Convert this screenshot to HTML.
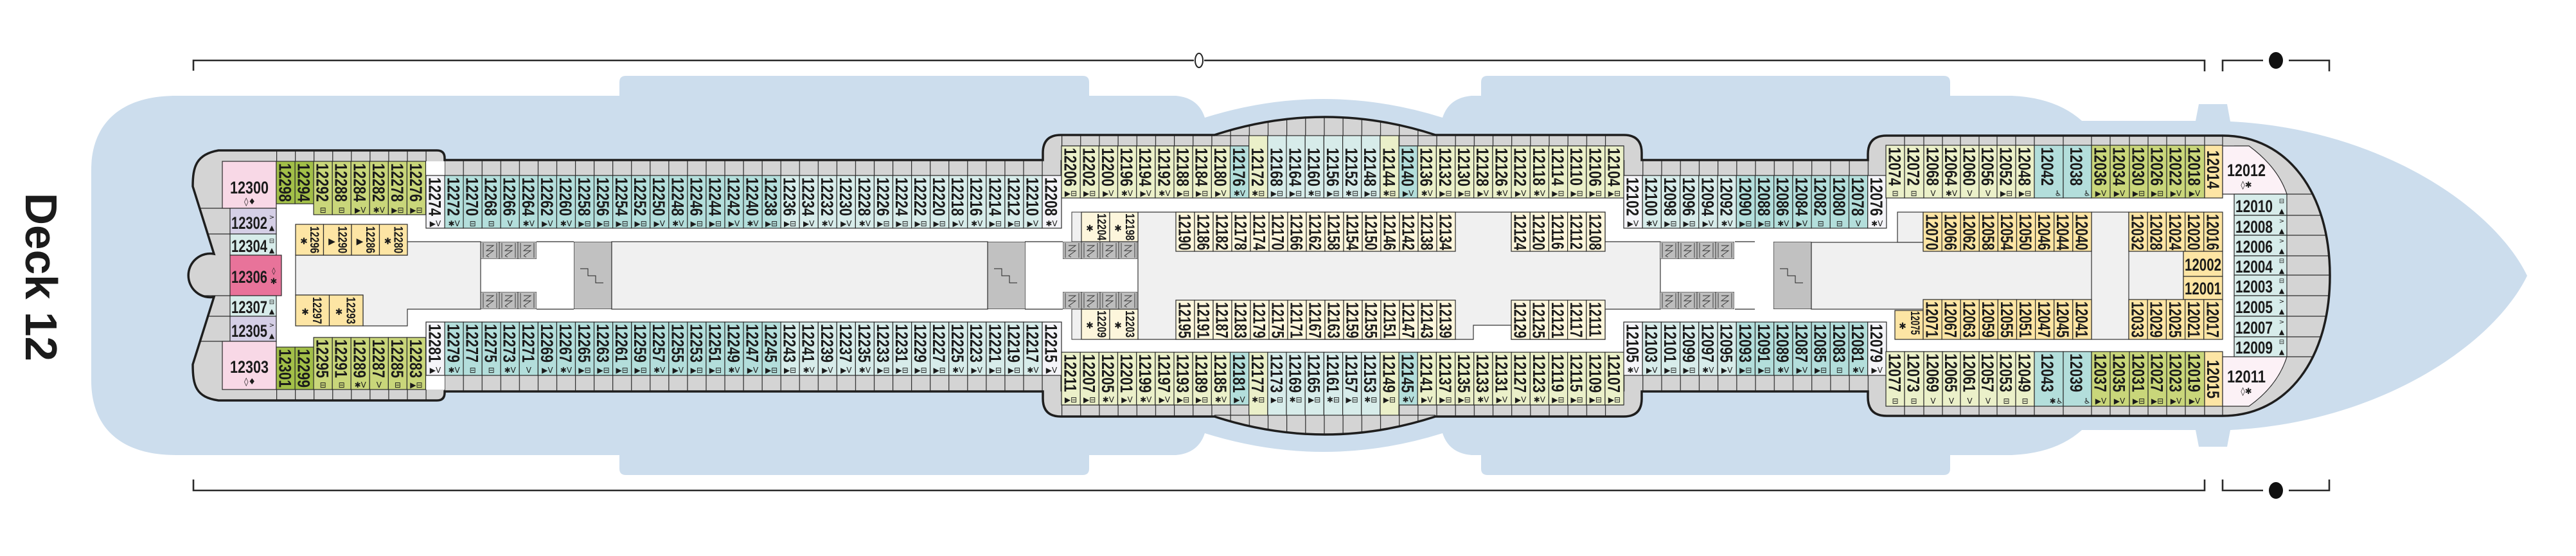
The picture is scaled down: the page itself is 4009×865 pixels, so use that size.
<!DOCTYPE html>
<html><head><meta charset="utf-8"><style>
html,body{margin:0;padding:0;background:#fff}
svg{display:block}
.n{font-family:"Liberation Sans",sans-serif;font-weight:bold;font-size:27px;fill:#1b1b1b}
.s{font-family:"Liberation Sans",sans-serif;font-weight:bold;font-size:19px;fill:#1b1b1b}
.h{font-family:"Liberation Sans",sans-serif;font-weight:bold;font-size:27px;fill:#1b1b1b}
.i{font-family:"DejaVu Sans",sans-serif;font-size:12px;fill:#1b1b1b;text-anchor:middle}
.c{stroke:#2a2a2a;stroke-width:1.2}
.W{fill:#f4f4f8}.T{fill:#b3dedb}.P{fill:#d7ecea}.G{fill:#c9d67a}.D{fill:#a2bf48}.L{fill:#ebf0c9}.Y{fill:#fde5a4}.Q{fill:#fdf6dc}
.ln{stroke:#2a2a2a;stroke-width:1.2;fill:none}
</style></head><body>
<svg width="4009" height="865" viewBox="0 0 4009 865" xmlns="http://www.w3.org/2000/svg">
<defs>
<path id="deck" d="M340,234 L680,234 Q692,234 692,246 L692,249 L1623,249 L1623,238 Q1623,210 1651,210 L1890,210 Q2062,154 2234,210 L2527,210 Q2555,210 2555,238 L2555,249 L2907,249 L2907,240 Q2907,211 2936,211 L3459,211 C3560,211 3626,300 3626,429 C3626,558 3560,647 3459,647 L2936,647 Q2907,647 2907,618 L2907,609 L2555,609 L2555,620 Q2555,648 2527,648 L2234,648 Q2062,704 1890,648 L1651,648 Q1623,648 1623,620 L1623,609 L692,609 L692,611 Q692,623 680,623 L340,623 C305,618 300,600 300,567 L333,462 A34,34 0 1 1 333,395 L300,290 C300,260 305,240 340,234 Z"/>
<clipPath id="dc"><use href="#deck"/></clipPath>
<pattern id="p1" patternUnits="userSpaceOnUse" x="430" y="0" width="29.06" height="900"><rect width="29.06" height="900" fill="#d4d4d4"/><path d="M0.6,0V900" stroke="#2a2a2a" stroke-width="1.2"/></pattern>
<pattern id="p2" patternUnits="userSpaceOnUse" x="1652" y="0" width="29.17" height="900"><rect width="29.17" height="900" fill="#d4d4d4"/><path d="M0.6,0V900" stroke="#2a2a2a" stroke-width="1.2"/></pattern>
<pattern id="p3" patternUnits="userSpaceOnUse" x="2527" y="0" width="29.21" height="900"><rect width="29.21" height="900" fill="#d4d4d4"/><path d="M0.6,0V900" stroke="#2a2a2a" stroke-width="1.2"/></pattern>
<symbol id="lift" viewBox="0 0 29 27" width="29" height="27"><rect x="0" y="0" width="29" height="27" fill="#bdbdbd" stroke="#333" stroke-width="1"/><path d="M4,2V25M25,2V25M9,6H20L9,14H20L9,22M9,22L13,19M9,22L13,24" stroke="#333" stroke-width="0.9" fill="none"/></symbol>
<symbol id="stair" viewBox="0 0 59 105" width="59" height="105"><rect x="0" y="0" width="59" height="105" fill="#c1c1c1" stroke="#222" stroke-width="1.2"/><path d="M10,42H22V53H34V64H46" stroke="#222" stroke-width="1" fill="none"/></symbol>
</defs>

<!-- hull -->
<path fill="#ccdded" d="M142,265 C142,190 190,149 274,149 L964,149 L964,128 Q964,118 974,118 L1685,118 Q1695,118 1695,128 L1695,149 L1830,149 Q1865,152 1875,183 Q2060,125 2245,183 Q2255,152 2290,149 L2305,149 L2305,128 Q2305,118 2315,118 L3025,118 Q3035,118 3035,128 L3035,149 L3131,149 Q3200,152 3240,188 L3417,188 L3422,162 L3466,162 L3471,189 C3700,200 3880,320 3933,429 C3880,538 3700,658 3471,669 L3466,695 L3422,695 L3417,669 L3240,669 Q3200,705 3131,708 L3035,708 L3035,729 Q3035,739 3025,739 L2315,739 Q2305,739 2305,729 L2305,708 L2290,708 Q2255,705 2245,674 Q2060,732 1875,674 Q1865,705 1830,708 L1695,708 L1695,729 Q1695,739 1685,739 L974,739 Q964,739 964,729 L964,708 L274,708 C190,708 142,667 142,592 Z"/>

<!-- brackets -->
<path class="ln" stroke-width="2.5" d="M301,110V94H1858M1874,94H3431V111M3459,111V94H3522M3562,94H3625V111M301,746V763H3431V746M3459,746V763H3522M3562,763H3625V746" style="stroke-width:2.6"/>
<ellipse cx="1866" cy="94" rx="6" ry="11" fill="#fff" stroke="#222" stroke-width="2"/>
<ellipse cx="3542" cy="94" rx="11" ry="13" fill="#111"/>
<ellipse cx="3542" cy="763" rx="11" ry="13" fill="#111"/>

<text transform="translate(40,300) rotate(90)" font-family="Liberation Sans, sans-serif" font-weight="bold" font-size="70" fill="#1b1b1b" textLength="262" lengthAdjust="spacingAndGlyphs">Deck 12</text>

<!-- deck base -->
<use href="#deck" fill="#d4d4d4"/>
<g clip-path="url(#dc)">
<path class="ln" d="M290,324H358M290,364H358M290,460H358M290,492H358M290,531H358M3559,302H3650M3559,335H3650M3559,366H3650M3559,398H3650M3559,428H3650M3559,460H3650M3559,492H3650M3559,524H3650M3559,555H3650"/>
<!-- strips -->
<rect x="430" y="234" width="262" height="17" fill="url(#p1)"/>
<rect x="430" y="606" width="262" height="17" fill="url(#p1)"/>
<rect x="663" y="249" width="989" height="24" fill="url(#p1)"/>
<rect x="663" y="584" width="989" height="25" fill="url(#p1)"/>
<rect x="1652" y="180" width="875" height="47" fill="url(#p2)"/>
<rect x="1652" y="630" width="875" height="50" fill="url(#p2)"/>
<rect x="2527" y="249" width="409" height="24" fill="url(#p3)"/>
<rect x="2527" y="584" width="409" height="25" fill="url(#p3)"/>
</g>
<path class="ln" d="M1652,227H2527M1652,630H2527M1890,211H1945M2177,211H2234M1890,646H1945M2177,646H2234"/>
<path class="ln" d="M2964,211V226M2994,211V226M3023,211V226M3051,211V226M3080,211V226M3108,211V226M3137,211V226M3166,211V226M3211,211V226M3255,211V226M3284,211V226M3314,211V226M3343,211V226M3372,211V226M3401,211V226M3431,211V226M3459,211V226M2964,632V647M2994,632V647M3023,632V647M3051,632V647M3080,632V647M3108,632V647M3137,632V647M3166,632V647M3211,632V647M3255,632V647M3284,632V647M3314,632V647M3343,632V647M3372,632V647M3401,632V647M3431,632V647M3459,632V647"/>

<!-- white interiors -->
<rect x="430" y="251" width="262" height="355" fill="#fff"/>
<rect x="663" y="273" width="989" height="311" fill="#fff"/>
<rect x="1652" y="227" width="875" height="403" fill="#fff"/>
<rect x="2527" y="273" width="409" height="311" fill="#fff"/>
<rect x="2935" y="226" width="542" height="406" fill="#fff"/>

<!-- light grey areas -->
<path d="M460,397 L634,397 L634,376 L748,376 L748,481 L634,481 L634,507 L565,507 L565,459 L460,459 Z" fill="#f0f0f0" stroke="#333" stroke-width="1.2"/>
<rect x="952" y="376" width="585" height="105" fill="#f0f0f0" stroke="#333" stroke-width="1.2"/>
<path d="M1771,330 L2498,330 L2498,376 L2584,376 L2584,481 L2498,481 L2498,528 L2352,528 L2352,506 L2293,506 L2293,528 L1771,528 Z" fill="#f0f0f0" stroke="#333" stroke-width="1.2"/>
<rect x="2819" y="377" width="579" height="104" fill="#f0f0f0" stroke="#333" stroke-width="1.2"/>
<rect x="2953" y="330" width="40" height="47" fill="#f0f0f0" stroke="#333" stroke-width="1.2"/>
<rect x="3255" y="330" width="58" height="198" fill="#f0f0f0" stroke="#333" stroke-width="1.2"/>
<rect x="1668" y="330" width="15" height="46" fill="#f0f0f0" stroke="#333" stroke-width="1"/>
<rect x="1668" y="481" width="15" height="47" fill="#f0f0f0" stroke="#333" stroke-width="1"/>
<path class="ln" d="M835,376H893M835,481H893M1595,376H1654M1595,481H1654M2700,376H2731M2700,481H2731"/>

<!-- lifts & stairs -->
<use href="#lift" x="748" y="376"/><use href="#lift" x="777" y="376"/><use href="#lift" x="806" y="376"/>
<use href="#lift" x="748" y="454"/><use href="#lift" x="777" y="454"/><use href="#lift" x="806" y="454"/>
<use href="#lift" x="1654" y="376"/><use href="#lift" x="1683" y="376"/><use href="#lift" x="1712" y="376"/><use href="#lift" x="1741" y="376"/>
<use href="#lift" x="1654" y="454"/><use href="#lift" x="1683" y="454"/><use href="#lift" x="1712" y="454"/><use href="#lift" x="1741" y="454"/>
<use href="#lift" x="2583" y="376"/><use href="#lift" x="2612" y="376"/><use href="#lift" x="2641" y="376"/><use href="#lift" x="2670" y="376"/>
<use href="#lift" x="2583" y="454"/><use href="#lift" x="2612" y="454"/><use href="#lift" x="2641" y="454"/><use href="#lift" x="2670" y="454"/>
<use href="#stair" x="893" y="376"/><use href="#stair" x="1537" y="376"/><use href="#stair" x="2760" y="376"/>

<!-- AFT -->
<rect class="c" x="346" y="251" width="84" height="73" fill="#f8d8e6"/>
<text class="h" x="358" y="301" textLength="60" lengthAdjust="spacingAndGlyphs">12300</text><text class="i" x="389" y="318" style="font-size:13px">◊♦</text>
<rect class="c" x="358" y="324" width="72" height="40" fill="#d5cfe6"/>
<text class="h" x="360" y="356" textLength="56" lengthAdjust="spacingAndGlyphs">12302</text><text class="i" x="423" y="341" style="font-size:10px">&gt;</text><text class="i" x="423" y="358" style="font-size:11px">▲</text>
<rect class="c" x="358" y="364" width="72" height="33" fill="#d7ecea"/>
<text class="h" x="360" y="392" textLength="56" lengthAdjust="spacingAndGlyphs">12304</text><text class="i" x="423" y="378" style="font-size:10px">⊟</text><text class="i" x="423" y="393" style="font-size:11px">▲</text>
<rect class="c" x="358" y="397" width="80" height="63" fill="#e8739a"/>
<text class="h" x="360" y="440" textLength="56" lengthAdjust="spacingAndGlyphs">12306</text><text class="i" x="426" y="425" style="font-size:11px">◊</text><text class="i" x="426" y="442" style="font-size:13px">✱</text>
<rect class="c" x="358" y="460" width="72" height="32" fill="#d7ecea"/>
<text class="h" x="360" y="487" textLength="56" lengthAdjust="spacingAndGlyphs">12307</text><text class="i" x="423" y="473" style="font-size:10px">⊟</text><text class="i" x="423" y="488" style="font-size:11px">▲</text>
<rect class="c" x="358" y="492" width="72" height="39" fill="#d5cfe6"/>
<text class="h" x="360" y="524" textLength="56" lengthAdjust="spacingAndGlyphs">12305</text><text class="i" x="423" y="509" style="font-size:10px">&gt;</text><text class="i" x="423" y="526" style="font-size:11px">▲</text>
<rect class="c" x="346" y="531" width="84" height="75" fill="#f8d8e6"/>
<text class="h" x="358" y="580" textLength="60" lengthAdjust="spacingAndGlyphs">12303</text><text class="i" x="389" y="598" style="font-size:13px">◊♦</text>

<rect class="c D" x="430" y="251" width="29.1" height="66"/><text class="n" transform="translate(434.5,254)rotate(90)scale(.8,1)">12298</text>
<rect class="c D" x="459.1" y="251" width="29.1" height="66"/><text class="n" transform="translate(463.6,254)rotate(90)scale(.8,1)">12294</text>
<rect class="c G" x="488.1" y="251" width="29.1" height="83"/><text class="n" transform="translate(492.6,254)rotate(90)scale(.8,1)">12292</text><text class="i" x="502.6" y="331">⊟</text>
<rect class="c G" x="517.2" y="251" width="29.1" height="83"/><text class="n" transform="translate(521.7,254)rotate(90)scale(.8,1)">12288</text><text class="i" x="531.7" y="331">⊟</text>
<rect class="c G" x="546.2" y="251" width="29.1" height="83"/><text class="n" transform="translate(550.7,254)rotate(90)scale(.8,1)">12284</text><text class="i" x="560.7" y="331">▶V</text>
<rect class="c G" x="575.3" y="251" width="29.1" height="83"/><text class="n" transform="translate(579.8,254)rotate(90)scale(.8,1)">12282</text><text class="i" x="589.8" y="331">✱V</text>
<rect class="c G" x="604.4" y="251" width="29.1" height="83"/><text class="n" transform="translate(608.9,254)rotate(90)scale(.8,1)">12278</text><text class="i" x="618.9" y="331">▶⊟</text>
<rect class="c G" x="633.4" y="251" width="29.1" height="83"/><text class="n" transform="translate(637.9,254)rotate(90)scale(.8,1)">12276</text><text class="i" x="647.9" y="331">▶⊟</text>

<rect class="c D" x="430" y="540" width="29.1" height="66"/><text class="n" transform="translate(434.5,543)rotate(90)scale(.8,1)">12301</text>
<rect class="c D" x="459.1" y="540" width="29.1" height="66"/><text class="n" transform="translate(463.6,543)rotate(90)scale(.8,1)">12299</text>
<rect class="c G" x="488.1" y="525" width="29.1" height="81"/><text class="n" transform="translate(492.6,528)rotate(90)scale(.8,1)">12295</text><text class="i" x="502.6" y="603">⊟</text>
<rect class="c G" x="517.2" y="525" width="29.1" height="81"/><text class="n" transform="translate(521.7,528)rotate(90)scale(.8,1)">12291</text><text class="i" x="531.7" y="603">⊟</text>
<rect class="c G" x="546.2" y="525" width="29.1" height="81"/><text class="n" transform="translate(550.7,528)rotate(90)scale(.8,1)">12289</text><text class="i" x="560.7" y="603">✱V</text>
<rect class="c G" x="575.3" y="525" width="29.1" height="81"/><text class="n" transform="translate(579.8,528)rotate(90)scale(.8,1)">12287</text><text class="i" x="589.8" y="603">V</text>
<rect class="c G" x="604.4" y="525" width="29.1" height="81"/><text class="n" transform="translate(608.9,528)rotate(90)scale(.8,1)">12285</text><text class="i" x="618.9" y="603">⊟</text>
<rect class="c G" x="633.4" y="525" width="29.1" height="81"/><text class="n" transform="translate(637.9,528)rotate(90)scale(.8,1)">12283</text><text class="i" x="647.9" y="603">▶⊟</text>

<rect class="c Y" x="460" y="349" width="43.5" height="48"/><text class="s" transform="translate(483,352)rotate(90)scale(.8,1)">12296</text><text class="i" x="473" y="380" style="font-size:14px">✱</text>
<rect class="c Y" x="503.5" y="349" width="43.5" height="48"/><text class="s" transform="translate(526.5,352)rotate(90)scale(.8,1)">12290</text><text class="i" x="516.5" y="380" style="font-size:14px">▶</text>
<rect class="c Y" x="547" y="349" width="43.5" height="48"/><text class="s" transform="translate(570,352)rotate(90)scale(.8,1)">12286</text><text class="i" x="560" y="380" style="font-size:14px">▶</text>
<rect class="c Y" x="590.5" y="349" width="43.5" height="48"/><text class="s" transform="translate(613.5,352)rotate(90)scale(.8,1)">12280</text><text class="i" x="603.5" y="380" style="font-size:14px">✱</text>
<rect class="c Y" x="460" y="459" width="52.5" height="48"/><text class="s" transform="translate(487,462)rotate(90)scale(.8,1)">12297</text><text class="i" x="475" y="490" style="font-size:14px">✱</text>
<rect class="c Y" x="512.5" y="459" width="52.5" height="48"/><text class="s" transform="translate(539.5,462)rotate(90)scale(.8,1)">12293</text><text class="i" x="527.5" y="490" style="font-size:14px">✱</text>

<!-- NARROW 1 TOP -->
<rect class="c W" x="663.0" y="273" width="29.1" height="82"/><text class="n" transform="translate(667.5,276)rotate(90)scale(.8,1)">12274</text><text class="i" x="677.5" y="352">▶V</text>
<rect class="c T" x="692.1" y="273" width="29.1" height="82"/><text class="n" transform="translate(696.6,276)rotate(90)scale(.8,1)">12272</text><text class="i" x="706.6" y="352">✱V</text>
<rect class="c T" x="721.1" y="273" width="29.1" height="82"/><text class="n" transform="translate(725.6,276)rotate(90)scale(.8,1)">12270</text><text class="i" x="735.6" y="352">⊟</text>
<rect class="c T" x="750.2" y="273" width="29.1" height="82"/><text class="n" transform="translate(754.7,276)rotate(90)scale(.8,1)">12268</text><text class="i" x="764.7" y="352">⊟</text>
<rect class="c T" x="779.2" y="273" width="29.1" height="82"/><text class="n" transform="translate(783.7,276)rotate(90)scale(.8,1)">12266</text><text class="i" x="793.7" y="352">V</text>
<rect class="c T" x="808.3" y="273" width="29.1" height="82"/><text class="n" transform="translate(812.8,276)rotate(90)scale(.8,1)">12264</text><text class="i" x="822.8" y="352">✱V</text>
<rect class="c T" x="837.4" y="273" width="29.1" height="82"/><text class="n" transform="translate(841.9,276)rotate(90)scale(.8,1)">12262</text><text class="i" x="851.9" y="352">▶V</text>
<rect class="c T" x="866.4" y="273" width="29.1" height="82"/><text class="n" transform="translate(870.9,276)rotate(90)scale(.8,1)">12260</text><text class="i" x="880.9" y="352">✱V</text>
<rect class="c T" x="895.5" y="273" width="29.1" height="82"/><text class="n" transform="translate(900,276)rotate(90)scale(.8,1)">12258</text><text class="i" x="910" y="352">▶⊟</text>
<rect class="c T" x="924.5" y="273" width="29.1" height="82"/><text class="n" transform="translate(929,276)rotate(90)scale(.8,1)">12256</text><text class="i" x="939" y="352">▶⊟</text>
<rect class="c T" x="953.6" y="273" width="29.1" height="82"/><text class="n" transform="translate(958.1,276)rotate(90)scale(.8,1)">12254</text><text class="i" x="968.1" y="352">▶⊟</text>
<rect class="c T" x="982.7" y="273" width="29.1" height="82"/><text class="n" transform="translate(987.2,276)rotate(90)scale(.8,1)">12252</text><text class="i" x="997.2" y="352">▶⊟</text>
<rect class="c T" x="1011.7" y="273" width="29.1" height="82"/><text class="n" transform="translate(1016.2,276)rotate(90)scale(.8,1)">12250</text><text class="i" x="1026.2" y="352">▶V</text>
<rect class="c T" x="1040.8" y="273" width="29.1" height="82"/><text class="n" transform="translate(1045.3,276)rotate(90)scale(.8,1)">12248</text><text class="i" x="1055.3" y="352">✱V</text>
<rect class="c T" x="1069.8" y="273" width="29.1" height="82"/><text class="n" transform="translate(1074.3,276)rotate(90)scale(.8,1)">12246</text><text class="i" x="1084.3" y="352">▶⊟</text>
<rect class="c T" x="1098.9" y="273" width="29.1" height="82"/><text class="n" transform="translate(1103.4,276)rotate(90)scale(.8,1)">12244</text><text class="i" x="1113.4" y="352">▶⊟</text>
<rect class="c T" x="1128.0" y="273" width="29.1" height="82"/><text class="n" transform="translate(1132.5,276)rotate(90)scale(.8,1)">12242</text><text class="i" x="1142.5" y="352">▶V</text>
<rect class="c T" x="1157.0" y="273" width="29.1" height="82"/><text class="n" transform="translate(1161.5,276)rotate(90)scale(.8,1)">12240</text><text class="i" x="1171.5" y="352">✱V</text>
<rect class="c T" x="1186.1" y="273" width="29.1" height="82"/><text class="n" transform="translate(1190.6,276)rotate(90)scale(.8,1)">12238</text><text class="i" x="1200.6" y="352">▶⊟</text>
<rect class="c P" x="1215.1" y="273" width="29.1" height="82"/><text class="n" transform="translate(1219.6,276)rotate(90)scale(.8,1)">12236</text><text class="i" x="1229.6" y="352">▶⊟</text>
<rect class="c P" x="1244.2" y="273" width="29.1" height="82"/><text class="n" transform="translate(1248.7,276)rotate(90)scale(.8,1)">12234</text><text class="i" x="1258.7" y="352">▶V</text>
<rect class="c P" x="1273.3" y="273" width="29.1" height="82"/><text class="n" transform="translate(1277.8,276)rotate(90)scale(.8,1)">12232</text><text class="i" x="1287.8" y="352">✱V</text>
<rect class="c P" x="1302.3" y="273" width="29.1" height="82"/><text class="n" transform="translate(1306.8,276)rotate(90)scale(.8,1)">12230</text><text class="i" x="1316.8" y="352">▶V</text>
<rect class="c P" x="1331.4" y="273" width="29.1" height="82"/><text class="n" transform="translate(1335.9,276)rotate(90)scale(.8,1)">12228</text><text class="i" x="1345.9" y="352">✱V</text>
<rect class="c P" x="1360.4" y="273" width="29.1" height="82"/><text class="n" transform="translate(1364.9,276)rotate(90)scale(.8,1)">12226</text><text class="i" x="1374.9" y="352">▶⊟</text>
<rect class="c P" x="1389.5" y="273" width="29.1" height="82"/><text class="n" transform="translate(1394,276)rotate(90)scale(.8,1)">12224</text><text class="i" x="1404" y="352">▶⊟</text>
<rect class="c P" x="1418.6" y="273" width="29.1" height="82"/><text class="n" transform="translate(1423.1,276)rotate(90)scale(.8,1)">12222</text><text class="i" x="1433.1" y="352">▶⊟</text>
<rect class="c P" x="1447.6" y="273" width="29.1" height="82"/><text class="n" transform="translate(1452.1,276)rotate(90)scale(.8,1)">12220</text><text class="i" x="1462.1" y="352">▶⊟</text>
<rect class="c P" x="1476.7" y="273" width="29.1" height="82"/><text class="n" transform="translate(1481.2,276)rotate(90)scale(.8,1)">12218</text><text class="i" x="1491.2" y="352">▶V</text>
<rect class="c P" x="1505.7" y="273" width="29.1" height="82"/><text class="n" transform="translate(1510.2,276)rotate(90)scale(.8,1)">12216</text><text class="i" x="1520.2" y="352">✱V</text>
<rect class="c P" x="1534.8" y="273" width="29.1" height="82"/><text class="n" transform="translate(1539.3,276)rotate(90)scale(.8,1)">12214</text><text class="i" x="1549.3" y="352">▶⊟</text>
<rect class="c P" x="1563.9" y="273" width="29.1" height="82"/><text class="n" transform="translate(1568.4,276)rotate(90)scale(.8,1)">12212</text><text class="i" x="1578.4" y="352">▶⊟</text>
<rect class="c P" x="1592.9" y="273" width="29.1" height="82"/><text class="n" transform="translate(1597.4,276)rotate(90)scale(.8,1)">12210</text><text class="i" x="1607.4" y="352">▶V</text>
<rect class="c W" x="1622.0" y="273" width="30" height="82"/><text class="n" transform="translate(1626.5,276)rotate(90)scale(.8,1)">12208</text><text class="i" x="1636.5" y="352">✱V</text>

<!-- NARROW 1 BOTTOM -->
<rect class="c W" x="663.0" y="501" width="29.1" height="83"/><text class="n" transform="translate(667.5,504)rotate(90)scale(.8,1)">12281</text><text class="i" x="677.5" y="580">▶V</text>
<rect class="c T" x="692.1" y="501" width="29.1" height="83"/><text class="n" transform="translate(696.6,504)rotate(90)scale(.8,1)">12279</text><text class="i" x="706.6" y="580">✱V</text>
<rect class="c T" x="721.1" y="501" width="29.1" height="83"/><text class="n" transform="translate(725.6,504)rotate(90)scale(.8,1)">12277</text><text class="i" x="735.6" y="580">⊟</text>
<rect class="c T" x="750.2" y="501" width="29.1" height="83"/><text class="n" transform="translate(754.7,504)rotate(90)scale(.8,1)">12275</text><text class="i" x="764.7" y="580">⊟</text>
<rect class="c T" x="779.2" y="501" width="29.1" height="83"/><text class="n" transform="translate(783.7,504)rotate(90)scale(.8,1)">12273</text><text class="i" x="793.7" y="580">✱V</text>
<rect class="c T" x="808.3" y="501" width="29.1" height="83"/><text class="n" transform="translate(812.8,504)rotate(90)scale(.8,1)">12271</text><text class="i" x="822.8" y="580">V</text>
<rect class="c T" x="837.4" y="501" width="29.1" height="83"/><text class="n" transform="translate(841.9,504)rotate(90)scale(.8,1)">12269</text><text class="i" x="851.9" y="580">▶V</text>
<rect class="c T" x="866.4" y="501" width="29.1" height="83"/><text class="n" transform="translate(870.9,504)rotate(90)scale(.8,1)">12267</text><text class="i" x="880.9" y="580">✱V</text>
<rect class="c T" x="895.5" y="501" width="29.1" height="83"/><text class="n" transform="translate(900,504)rotate(90)scale(.8,1)">12265</text><text class="i" x="910" y="580">▶⊟</text>
<rect class="c T" x="924.5" y="501" width="29.1" height="83"/><text class="n" transform="translate(929,504)rotate(90)scale(.8,1)">12263</text><text class="i" x="939" y="580">▶⊟</text>
<rect class="c T" x="953.6" y="501" width="29.1" height="83"/><text class="n" transform="translate(958.1,504)rotate(90)scale(.8,1)">12261</text><text class="i" x="968.1" y="580">▶⊟</text>
<rect class="c T" x="982.7" y="501" width="29.1" height="83"/><text class="n" transform="translate(987.2,504)rotate(90)scale(.8,1)">12259</text><text class="i" x="997.2" y="580">▶⊟</text>
<rect class="c T" x="1011.7" y="501" width="29.1" height="83"/><text class="n" transform="translate(1016.2,504)rotate(90)scale(.8,1)">12257</text><text class="i" x="1026.2" y="580">✱V</text>
<rect class="c T" x="1040.8" y="501" width="29.1" height="83"/><text class="n" transform="translate(1045.3,504)rotate(90)scale(.8,1)">12255</text><text class="i" x="1055.3" y="580">▶V</text>
<rect class="c T" x="1069.8" y="501" width="29.1" height="83"/><text class="n" transform="translate(1074.3,504)rotate(90)scale(.8,1)">12253</text><text class="i" x="1084.3" y="580">▶⊟</text>
<rect class="c T" x="1098.9" y="501" width="29.1" height="83"/><text class="n" transform="translate(1103.4,504)rotate(90)scale(.8,1)">12251</text><text class="i" x="1113.4" y="580">▶⊟</text>
<rect class="c T" x="1128.0" y="501" width="29.1" height="83"/><text class="n" transform="translate(1132.5,504)rotate(90)scale(.8,1)">12249</text><text class="i" x="1142.5" y="580">✱V</text>
<rect class="c T" x="1157.0" y="501" width="29.1" height="83"/><text class="n" transform="translate(1161.5,504)rotate(90)scale(.8,1)">12247</text><text class="i" x="1171.5" y="580">▶V</text>
<rect class="c T" x="1186.1" y="501" width="29.1" height="83"/><text class="n" transform="translate(1190.6,504)rotate(90)scale(.8,1)">12245</text><text class="i" x="1200.6" y="580">▶⊟</text>
<rect class="c P" x="1215.1" y="501" width="29.1" height="83"/><text class="n" transform="translate(1219.6,504)rotate(90)scale(.8,1)">12243</text><text class="i" x="1229.6" y="580">▶⊟</text>
<rect class="c P" x="1244.2" y="501" width="29.1" height="83"/><text class="n" transform="translate(1248.7,504)rotate(90)scale(.8,1)">12241</text><text class="i" x="1258.7" y="580">✱V</text>
<rect class="c P" x="1273.3" y="501" width="29.1" height="83"/><text class="n" transform="translate(1277.8,504)rotate(90)scale(.8,1)">12239</text><text class="i" x="1287.8" y="580">▶V</text>
<rect class="c P" x="1302.3" y="501" width="29.1" height="83"/><text class="n" transform="translate(1306.8,504)rotate(90)scale(.8,1)">12237</text><text class="i" x="1316.8" y="580">▶V</text>
<rect class="c P" x="1331.4" y="501" width="29.1" height="83"/><text class="n" transform="translate(1335.9,504)rotate(90)scale(.8,1)">12235</text><text class="i" x="1345.9" y="580">✱V</text>
<rect class="c P" x="1360.4" y="501" width="29.1" height="83"/><text class="n" transform="translate(1364.9,504)rotate(90)scale(.8,1)">12233</text><text class="i" x="1374.9" y="580">▶⊟</text>
<rect class="c P" x="1389.5" y="501" width="29.1" height="83"/><text class="n" transform="translate(1394,504)rotate(90)scale(.8,1)">12231</text><text class="i" x="1404" y="580">▶⊟</text>
<rect class="c P" x="1418.6" y="501" width="29.1" height="83"/><text class="n" transform="translate(1423.1,504)rotate(90)scale(.8,1)">12229</text><text class="i" x="1433.1" y="580">▶⊟</text>
<rect class="c P" x="1447.6" y="501" width="29.1" height="83"/><text class="n" transform="translate(1452.1,504)rotate(90)scale(.8,1)">12227</text><text class="i" x="1462.1" y="580">▶⊟</text>
<rect class="c P" x="1476.7" y="501" width="29.1" height="83"/><text class="n" transform="translate(1481.2,504)rotate(90)scale(.8,1)">12225</text><text class="i" x="1491.2" y="580">✱V</text>
<rect class="c P" x="1505.7" y="501" width="29.1" height="83"/><text class="n" transform="translate(1510.2,504)rotate(90)scale(.8,1)">12223</text><text class="i" x="1520.2" y="580">▶V</text>
<rect class="c P" x="1534.8" y="501" width="29.1" height="83"/><text class="n" transform="translate(1539.3,504)rotate(90)scale(.8,1)">12221</text><text class="i" x="1549.3" y="580">▶⊟</text>
<rect class="c P" x="1563.9" y="501" width="29.1" height="83"/><text class="n" transform="translate(1568.4,504)rotate(90)scale(.8,1)">12219</text><text class="i" x="1578.4" y="580">▶⊟</text>
<rect class="c P" x="1592.9" y="501" width="29.1" height="83"/><text class="n" transform="translate(1597.4,504)rotate(90)scale(.8,1)">12217</text><text class="i" x="1607.4" y="580">✱V</text>
<rect class="c W" x="1622.0" y="501" width="30" height="83"/><text class="n" transform="translate(1626.5,504)rotate(90)scale(.8,1)">12215</text><text class="i" x="1636.5" y="580">▶V</text>

<!-- MID TOP -->
<rect class="c L" x="1652" y="227" width="29.2" height="81"/><text class="n" transform="translate(1656.5,230)rotate(90)scale(.8,1)">12206</text><text class="i" x="1666.5" y="305">▶⊟</text>
<rect class="c L" x="1681.2" y="227" width="29.2" height="81"/><text class="n" transform="translate(1685.7,230)rotate(90)scale(.8,1)">12202</text><text class="i" x="1695.7" y="305">▶⊟</text>
<rect class="c L" x="1710.3" y="227" width="29.2" height="81"/><text class="n" transform="translate(1714.8,230)rotate(90)scale(.8,1)">12200</text><text class="i" x="1724.8" y="305">▶V</text>
<rect class="c L" x="1739.5" y="227" width="29.2" height="81"/><text class="n" transform="translate(1744,230)rotate(90)scale(.8,1)">12196</text><text class="i" x="1754" y="305">✱V</text>
<rect class="c L" x="1768.7" y="227" width="29.2" height="81"/><text class="n" transform="translate(1773.2,230)rotate(90)scale(.8,1)">12194</text><text class="i" x="1783.2" y="305">▶V</text>
<rect class="c L" x="1797.9" y="227" width="29.2" height="81"/><text class="n" transform="translate(1802.4,230)rotate(90)scale(.8,1)">12192</text><text class="i" x="1812.4" y="305">✱V</text>
<rect class="c L" x="1827.0" y="227" width="29.2" height="81"/><text class="n" transform="translate(1831.5,230)rotate(90)scale(.8,1)">12188</text><text class="i" x="1841.5" y="305">▶⊟</text>
<rect class="c L" x="1856.2" y="227" width="29.2" height="81"/><text class="n" transform="translate(1860.7,230)rotate(90)scale(.8,1)">12184</text><text class="i" x="1870.7" y="305">▶⊟</text>
<rect class="c L" x="1885.4" y="227" width="29.2" height="81"/><text class="n" transform="translate(1889.9,230)rotate(90)scale(.8,1)">12180</text><text class="i" x="1899.9" y="305">▶V</text>
<rect class="c T" x="1914.5" y="227" width="29.2" height="81"/><text class="n" transform="translate(1919,230)rotate(90)scale(.8,1)">12176</text><text class="i" x="1929" y="305">✱V</text>
<rect class="c L" x="1943.7" y="211" width="29.2" height="97"/><text class="n" transform="translate(1948.2,230)rotate(90)scale(.8,1)">12172</text><text class="i" x="1958.2" y="305">✱⊟</text>
<rect class="c P" x="1972.9" y="211" width="29.2" height="97"/><text class="n" transform="translate(1977.4,230)rotate(90)scale(.8,1)">12168</text><text class="i" x="1987.4" y="305">▶⊟</text>
<rect class="c P" x="2002.0" y="211" width="29.2" height="97"/><text class="n" transform="translate(2006.5,230)rotate(90)scale(.8,1)">12164</text><text class="i" x="2016.5" y="305">▶⊟</text>
<rect class="c P" x="2031.2" y="211" width="29.2" height="97"/><text class="n" transform="translate(2035.7,230)rotate(90)scale(.8,1)">12160</text><text class="i" x="2045.7" y="305">✱⊟</text>
<rect class="c P" x="2060.4" y="211" width="29.2" height="97"/><text class="n" transform="translate(2064.9,230)rotate(90)scale(.8,1)">12156</text><text class="i" x="2074.9" y="305">▶⊟</text>
<rect class="c P" x="2089.6" y="211" width="29.2" height="97"/><text class="n" transform="translate(2094.1,230)rotate(90)scale(.8,1)">12152</text><text class="i" x="2104.1" y="305">✱⊟</text>
<rect class="c P" x="2118.7" y="211" width="29.2" height="97"/><text class="n" transform="translate(2123.2,230)rotate(90)scale(.8,1)">12148</text><text class="i" x="2133.2" y="305">▶⊟</text>
<rect class="c L" x="2147.9" y="211" width="29.2" height="97"/><text class="n" transform="translate(2152.4,230)rotate(90)scale(.8,1)">12144</text><text class="i" x="2162.4" y="305">✱⊟</text>
<rect class="c T" x="2177.1" y="227" width="29.2" height="81"/><text class="n" transform="translate(2181.6,230)rotate(90)scale(.8,1)">12140</text><text class="i" x="2191.6" y="305">▶V</text>
<rect class="c L" x="2206.2" y="227" width="29.2" height="81"/><text class="n" transform="translate(2210.7,230)rotate(90)scale(.8,1)">12136</text><text class="i" x="2220.7" y="305">✱V</text>
<rect class="c L" x="2235.4" y="227" width="29.2" height="81"/><text class="n" transform="translate(2239.9,230)rotate(90)scale(.8,1)">12132</text><text class="i" x="2249.9" y="305">▶⊟</text>
<rect class="c L" x="2264.6" y="227" width="29.2" height="81"/><text class="n" transform="translate(2269.1,230)rotate(90)scale(.8,1)">12130</text><text class="i" x="2279.1" y="305">▶⊟</text>
<rect class="c L" x="2293.7" y="227" width="29.2" height="81"/><text class="n" transform="translate(2298.2,230)rotate(90)scale(.8,1)">12128</text><text class="i" x="2308.2" y="305">▶V</text>
<rect class="c L" x="2322.9" y="227" width="29.2" height="81"/><text class="n" transform="translate(2327.4,230)rotate(90)scale(.8,1)">12126</text><text class="i" x="2337.4" y="305">✱V</text>
<rect class="c L" x="2352.1" y="227" width="29.2" height="81"/><text class="n" transform="translate(2356.6,230)rotate(90)scale(.8,1)">12122</text><text class="i" x="2366.6" y="305">▶V</text>
<rect class="c L" x="2381.3" y="227" width="29.2" height="81"/><text class="n" transform="translate(2385.8,230)rotate(90)scale(.8,1)">12118</text><text class="i" x="2395.8" y="305">✱V</text>
<rect class="c L" x="2410.4" y="227" width="29.2" height="81"/><text class="n" transform="translate(2414.9,230)rotate(90)scale(.8,1)">12114</text><text class="i" x="2424.9" y="305">▶⊟</text>
<rect class="c L" x="2439.6" y="227" width="29.2" height="81"/><text class="n" transform="translate(2444.1,230)rotate(90)scale(.8,1)">12110</text><text class="i" x="2454.1" y="305">▶⊟</text>
<rect class="c L" x="2468.8" y="227" width="29.2" height="81"/><text class="n" transform="translate(2473.3,230)rotate(90)scale(.8,1)">12106</text><text class="i" x="2483.3" y="305">▶⊟</text>
<rect class="c L" x="2497.9" y="227" width="29.2" height="81"/><text class="n" transform="translate(2502.4,230)rotate(90)scale(.8,1)">12104</text><text class="i" x="2512.4" y="305">▶⊟</text>

<!-- MID BOTTOM -->
<rect class="c L" x="1652" y="548" width="29.2" height="82"/><text class="n" transform="translate(1656.5,551)rotate(90)scale(.8,1)">12211</text><text class="i" x="1666.5" y="626">▶⊟</text>
<rect class="c L" x="1681.2" y="548" width="29.2" height="82"/><text class="n" transform="translate(1685.7,551)rotate(90)scale(.8,1)">12207</text><text class="i" x="1695.7" y="626">▶⊟</text>
<rect class="c L" x="1710.3" y="548" width="29.2" height="82"/><text class="n" transform="translate(1714.8,551)rotate(90)scale(.8,1)">12205</text><text class="i" x="1724.8" y="626">✱V</text>
<rect class="c L" x="1739.5" y="548" width="29.2" height="82"/><text class="n" transform="translate(1744,551)rotate(90)scale(.8,1)">12201</text><text class="i" x="1754" y="626">▶V</text>
<rect class="c L" x="1768.7" y="548" width="29.2" height="82"/><text class="n" transform="translate(1773.2,551)rotate(90)scale(.8,1)">12199</text><text class="i" x="1783.2" y="626">✱V</text>
<rect class="c L" x="1797.9" y="548" width="29.2" height="82"/><text class="n" transform="translate(1802.4,551)rotate(90)scale(.8,1)">12197</text><text class="i" x="1812.4" y="626">▶V</text>
<rect class="c L" x="1827.0" y="548" width="29.2" height="82"/><text class="n" transform="translate(1831.5,551)rotate(90)scale(.8,1)">12193</text><text class="i" x="1841.5" y="626">▶⊟</text>
<rect class="c L" x="1856.2" y="548" width="29.2" height="82"/><text class="n" transform="translate(1860.7,551)rotate(90)scale(.8,1)">12189</text><text class="i" x="1870.7" y="626">▶⊟</text>
<rect class="c L" x="1885.4" y="548" width="29.2" height="82"/><text class="n" transform="translate(1889.9,551)rotate(90)scale(.8,1)">12185</text><text class="i" x="1899.9" y="626">✱V</text>
<rect class="c T" x="1914.5" y="548" width="29.2" height="82"/><text class="n" transform="translate(1919,551)rotate(90)scale(.8,1)">12181</text><text class="i" x="1929" y="626">▶V</text>
<rect class="c L" x="1943.7" y="548" width="29.2" height="98"/><text class="n" transform="translate(1948.2,551)rotate(90)scale(.8,1)">12177</text><text class="i" x="1958.2" y="626">✱⊟</text>
<rect class="c P" x="1972.9" y="548" width="29.2" height="98"/><text class="n" transform="translate(1977.4,551)rotate(90)scale(.8,1)">12173</text><text class="i" x="1987.4" y="626">▶⊟</text>
<rect class="c P" x="2002.0" y="548" width="29.2" height="98"/><text class="n" transform="translate(2006.5,551)rotate(90)scale(.8,1)">12169</text><text class="i" x="2016.5" y="626">✱⊟</text>
<rect class="c P" x="2031.2" y="548" width="29.2" height="98"/><text class="n" transform="translate(2035.7,551)rotate(90)scale(.8,1)">12165</text><text class="i" x="2045.7" y="626">▶⊟</text>
<rect class="c P" x="2060.4" y="548" width="29.2" height="98"/><text class="n" transform="translate(2064.9,551)rotate(90)scale(.8,1)">12161</text><text class="i" x="2074.9" y="626">✱⊟</text>
<rect class="c P" x="2089.6" y="548" width="29.2" height="98"/><text class="n" transform="translate(2094.1,551)rotate(90)scale(.8,1)">12157</text><text class="i" x="2104.1" y="626">▶⊟</text>
<rect class="c P" x="2118.7" y="548" width="29.2" height="98"/><text class="n" transform="translate(2123.2,551)rotate(90)scale(.8,1)">12153</text><text class="i" x="2133.2" y="626">✱⊟</text>
<rect class="c L" x="2147.9" y="548" width="29.2" height="98"/><text class="n" transform="translate(2152.4,551)rotate(90)scale(.8,1)">12149</text><text class="i" x="2162.4" y="626">▶⊟</text>
<rect class="c T" x="2177.1" y="548" width="29.2" height="82"/><text class="n" transform="translate(2181.6,551)rotate(90)scale(.8,1)">12145</text><text class="i" x="2191.6" y="626">✱V</text>
<rect class="c L" x="2206.2" y="548" width="29.2" height="82"/><text class="n" transform="translate(2210.7,551)rotate(90)scale(.8,1)">12141</text><text class="i" x="2220.7" y="626">▶V</text>
<rect class="c L" x="2235.4" y="548" width="29.2" height="82"/><text class="n" transform="translate(2239.9,551)rotate(90)scale(.8,1)">12137</text><text class="i" x="2249.9" y="626">▶⊟</text>
<rect class="c L" x="2264.6" y="548" width="29.2" height="82"/><text class="n" transform="translate(2269.1,551)rotate(90)scale(.8,1)">12135</text><text class="i" x="2279.1" y="626">▶⊟</text>
<rect class="c L" x="2293.7" y="548" width="29.2" height="82"/><text class="n" transform="translate(2298.2,551)rotate(90)scale(.8,1)">12133</text><text class="i" x="2308.2" y="626">✱V</text>
<rect class="c L" x="2322.9" y="548" width="29.2" height="82"/><text class="n" transform="translate(2327.4,551)rotate(90)scale(.8,1)">12131</text><text class="i" x="2337.4" y="626">▶V</text>
<rect class="c L" x="2352.1" y="548" width="29.2" height="82"/><text class="n" transform="translate(2356.6,551)rotate(90)scale(.8,1)">12127</text><text class="i" x="2366.6" y="626">▶V</text>
<rect class="c L" x="2381.3" y="548" width="29.2" height="82"/><text class="n" transform="translate(2385.8,551)rotate(90)scale(.8,1)">12123</text><text class="i" x="2395.8" y="626">✱V</text>
<rect class="c L" x="2410.4" y="548" width="29.2" height="82"/><text class="n" transform="translate(2414.9,551)rotate(90)scale(.8,1)">12119</text><text class="i" x="2424.9" y="626">▶⊟</text>
<rect class="c L" x="2439.6" y="548" width="29.2" height="82"/><text class="n" transform="translate(2444.1,551)rotate(90)scale(.8,1)">12115</text><text class="i" x="2454.1" y="626">▶⊟</text>
<rect class="c L" x="2468.8" y="548" width="29.2" height="82"/><text class="n" transform="translate(2473.3,551)rotate(90)scale(.8,1)">12109</text><text class="i" x="2483.3" y="626">▶⊟</text>
<rect class="c L" x="2497.9" y="548" width="29.2" height="82"/><text class="n" transform="translate(2502.4,551)rotate(90)scale(.8,1)">12107</text><text class="i" x="2512.4" y="626">▶⊟</text>

<!-- MID INNER -->
<rect class="c Q" x="1683" y="330" width="44" height="46"/><text class="s" transform="translate(1708,332)rotate(90)scale(.8,1)">12204</text><text class="i" x="1696" y="360" style="font-size:14px">✱</text>
<rect class="c Q" x="1727" y="330" width="44" height="46"/><text class="s" transform="translate(1752,332)rotate(90)scale(.8,1)">12198</text><text class="i" x="1740" y="360" style="font-size:14px">✱</text>
<rect class="c Q" x="1683" y="481" width="44" height="47"/><text class="s" transform="translate(1708,483)rotate(90)scale(.8,1)">12209</text><text class="i" x="1696" y="511" style="font-size:14px">✱</text>
<rect class="c Q" x="1727" y="481" width="44" height="47"/><text class="s" transform="translate(1752,483)rotate(90)scale(.8,1)">12203</text><text class="i" x="1740" y="511" style="font-size:14px">✱</text>

<rect class="c Q" x="1830" y="330" width="29" height="61"/><text class="n" transform="translate(1834.5,333)rotate(90)scale(.75,1)">12190</text>
<rect class="c Q" x="1859" y="330" width="29" height="61"/><text class="n" transform="translate(1863.5,333)rotate(90)scale(.75,1)">12186</text>
<rect class="c Q" x="1888" y="330" width="29" height="61"/><text class="n" transform="translate(1892.5,333)rotate(90)scale(.75,1)">12182</text>
<rect class="c Q" x="1917" y="330" width="29" height="61"/><text class="n" transform="translate(1921.5,333)rotate(90)scale(.75,1)">12178</text>
<rect class="c Q" x="1946" y="330" width="29" height="61"/><text class="n" transform="translate(1950.5,333)rotate(90)scale(.75,1)">12174</text>
<rect class="c Q" x="1975" y="330" width="29" height="61"/><text class="n" transform="translate(1979.5,333)rotate(90)scale(.75,1)">12170</text>
<rect class="c Q" x="2004" y="330" width="29" height="61"/><text class="n" transform="translate(2008.5,333)rotate(90)scale(.75,1)">12166</text>
<rect class="c Q" x="2033" y="330" width="29" height="61"/><text class="n" transform="translate(2037.5,333)rotate(90)scale(.75,1)">12162</text>
<rect class="c Q" x="2062" y="330" width="29" height="61"/><text class="n" transform="translate(2066.5,333)rotate(90)scale(.75,1)">12158</text>
<rect class="c Q" x="2091" y="330" width="29" height="61"/><text class="n" transform="translate(2095.5,333)rotate(90)scale(.75,1)">12154</text>
<rect class="c Q" x="2120" y="330" width="29" height="61"/><text class="n" transform="translate(2124.5,333)rotate(90)scale(.75,1)">12150</text>
<rect class="c Q" x="2149" y="330" width="29" height="61"/><text class="n" transform="translate(2153.5,333)rotate(90)scale(.75,1)">12146</text>
<rect class="c Q" x="2178" y="330" width="29" height="61"/><text class="n" transform="translate(2182.5,333)rotate(90)scale(.75,1)">12142</text>
<rect class="c Q" x="2207" y="330" width="29" height="61"/><text class="n" transform="translate(2211.5,333)rotate(90)scale(.75,1)">12138</text>
<rect class="c Q" x="2236" y="330" width="29" height="61"/><text class="n" transform="translate(2240.5,333)rotate(90)scale(.75,1)">12134</text>
<rect class="c Q" x="2352" y="330" width="29.2" height="61"/><text class="n" transform="translate(2356.5,333)rotate(90)scale(.75,1)">12124</text>
<rect class="c Q" x="2381.2" y="330" width="29.2" height="61"/><text class="n" transform="translate(2385.7,333)rotate(90)scale(.75,1)">12120</text>
<rect class="c Q" x="2410.4" y="330" width="29.2" height="61"/><text class="n" transform="translate(2414.9,333)rotate(90)scale(.75,1)">12116</text>
<rect class="c Q" x="2439.6" y="330" width="29.2" height="61"/><text class="n" transform="translate(2444.1,333)rotate(90)scale(.75,1)">12112</text>
<rect class="c Q" x="2468.8" y="330" width="29.2" height="61"/><text class="n" transform="translate(2473.3,333)rotate(90)scale(.75,1)">12108</text>

<rect class="c Q" x="1830" y="467" width="29" height="61"/><text class="n" transform="translate(1834.5,470)rotate(90)scale(.75,1)">12195</text>
<rect class="c Q" x="1859" y="467" width="29" height="61"/><text class="n" transform="translate(1863.5,470)rotate(90)scale(.75,1)">12191</text>
<rect class="c Q" x="1888" y="467" width="29" height="61"/><text class="n" transform="translate(1892.5,470)rotate(90)scale(.75,1)">12187</text>
<rect class="c Q" x="1917" y="467" width="29" height="61"/><text class="n" transform="translate(1921.5,470)rotate(90)scale(.75,1)">12183</text>
<rect class="c Q" x="1946" y="467" width="29" height="61"/><text class="n" transform="translate(1950.5,470)rotate(90)scale(.75,1)">12179</text>
<rect class="c Q" x="1975" y="467" width="29" height="61"/><text class="n" transform="translate(1979.5,470)rotate(90)scale(.75,1)">12175</text>
<rect class="c Q" x="2004" y="467" width="29" height="61"/><text class="n" transform="translate(2008.5,470)rotate(90)scale(.75,1)">12171</text>
<rect class="c Q" x="2033" y="467" width="29" height="61"/><text class="n" transform="translate(2037.5,470)rotate(90)scale(.75,1)">12167</text>
<rect class="c Q" x="2062" y="467" width="29" height="61"/><text class="n" transform="translate(2066.5,470)rotate(90)scale(.75,1)">12163</text>
<rect class="c Q" x="2091" y="467" width="29" height="61"/><text class="n" transform="translate(2095.5,470)rotate(90)scale(.75,1)">12159</text>
<rect class="c Q" x="2120" y="467" width="29" height="61"/><text class="n" transform="translate(2124.5,470)rotate(90)scale(.75,1)">12155</text>
<rect class="c Q" x="2149" y="467" width="29" height="61"/><text class="n" transform="translate(2153.5,470)rotate(90)scale(.75,1)">12151</text>
<rect class="c Q" x="2178" y="467" width="29" height="61"/><text class="n" transform="translate(2182.5,470)rotate(90)scale(.75,1)">12147</text>
<rect class="c Q" x="2207" y="467" width="29" height="61"/><text class="n" transform="translate(2211.5,470)rotate(90)scale(.75,1)">12143</text>
<rect class="c Q" x="2236" y="467" width="29" height="61"/><text class="n" transform="translate(2240.5,470)rotate(90)scale(.75,1)">12139</text>
<rect class="c Q" x="2352" y="467" width="29.2" height="61"/><text class="n" transform="translate(2356.5,470)rotate(90)scale(.75,1)">12129</text>
<rect class="c Q" x="2381.2" y="467" width="29.2" height="61"/><text class="n" transform="translate(2385.7,470)rotate(90)scale(.75,1)">12125</text>
<rect class="c Q" x="2410.4" y="467" width="29.2" height="61"/><text class="n" transform="translate(2414.9,470)rotate(90)scale(.75,1)">12121</text>
<rect class="c Q" x="2439.6" y="467" width="29.2" height="61"/><text class="n" transform="translate(2444.1,470)rotate(90)scale(.75,1)">12117</text>
<rect class="c Q" x="2468.8" y="467" width="29.2" height="61"/><text class="n" transform="translate(2473.3,470)rotate(90)scale(.75,1)">12111</text>

<!-- NARROW 2 -->
<rect class="c W" x="2527" y="273" width="29.2" height="82"/><text class="n" transform="translate(2531.5,276)rotate(90)scale(.8,1)">12102</text><text class="i" x="2541.5" y="352">▶V</text>
<rect class="c P" x="2556.2" y="273" width="29.2" height="82"/><text class="n" transform="translate(2560.7,276)rotate(90)scale(.8,1)">12100</text><text class="i" x="2570.7" y="352">✱V</text>
<rect class="c P" x="2585.4" y="273" width="29.2" height="82"/><text class="n" transform="translate(2589.9,276)rotate(90)scale(.8,1)">12098</text><text class="i" x="2599.9" y="352">▶⊟</text>
<rect class="c P" x="2614.6" y="273" width="29.2" height="82"/><text class="n" transform="translate(2619.1,276)rotate(90)scale(.8,1)">12096</text><text class="i" x="2629.1" y="352">▶⊟</text>
<rect class="c P" x="2643.8" y="273" width="29.2" height="82"/><text class="n" transform="translate(2648.3,276)rotate(90)scale(.8,1)">12094</text><text class="i" x="2658.3" y="352">▶V</text>
<rect class="c P" x="2673.1" y="273" width="29.2" height="82"/><text class="n" transform="translate(2677.6,276)rotate(90)scale(.8,1)">12092</text><text class="i" x="2687.6" y="352">✱V</text>
<rect class="c T" x="2702.3" y="273" width="29.2" height="82"/><text class="n" transform="translate(2706.8,276)rotate(90)scale(.8,1)">12090</text><text class="i" x="2716.8" y="352">▶⊟</text>
<rect class="c T" x="2731.5" y="273" width="29.2" height="82"/><text class="n" transform="translate(2736,276)rotate(90)scale(.8,1)">12088</text><text class="i" x="2746" y="352">▶⊟</text>
<rect class="c T" x="2760.7" y="273" width="29.2" height="82"/><text class="n" transform="translate(2765.2,276)rotate(90)scale(.8,1)">12086</text><text class="i" x="2775.2" y="352">✱V</text>
<rect class="c T" x="2789.9" y="273" width="29.2" height="82"/><text class="n" transform="translate(2794.4,276)rotate(90)scale(.8,1)">12084</text><text class="i" x="2804.4" y="352">▶V</text>
<rect class="c T" x="2819.1" y="273" width="29.2" height="82"/><text class="n" transform="translate(2823.6,276)rotate(90)scale(.8,1)">12082</text><text class="i" x="2833.6" y="352">⊟</text>
<rect class="c T" x="2848.3" y="273" width="29.2" height="82"/><text class="n" transform="translate(2852.8,276)rotate(90)scale(.8,1)">12080</text><text class="i" x="2862.8" y="352">⊟</text>
<rect class="c T" x="2877.5" y="273" width="29.2" height="82"/><text class="n" transform="translate(2882,276)rotate(90)scale(.8,1)">12078</text><text class="i" x="2892" y="352">V</text>
<rect class="c W" x="2906.7" y="273" width="29.2" height="82"/><text class="n" transform="translate(2911.2,276)rotate(90)scale(.8,1)">12076</text><text class="i" x="2921.2" y="352">✱V</text>

<rect class="c W" x="2527" y="501" width="29.2" height="83"/><text class="n" transform="translate(2531.5,504)rotate(90)scale(.8,1)">12105</text><text class="i" x="2541.5" y="580">✱V</text>
<rect class="c P" x="2556.2" y="501" width="29.2" height="83"/><text class="n" transform="translate(2560.7,504)rotate(90)scale(.8,1)">12103</text><text class="i" x="2570.7" y="580">▶V</text>
<rect class="c P" x="2585.4" y="501" width="29.2" height="83"/><text class="n" transform="translate(2589.9,504)rotate(90)scale(.8,1)">12101</text><text class="i" x="2599.9" y="580">▶⊟</text>
<rect class="c P" x="2614.6" y="501" width="29.2" height="83"/><text class="n" transform="translate(2619.1,504)rotate(90)scale(.8,1)">12099</text><text class="i" x="2629.1" y="580">▶⊟</text>
<rect class="c P" x="2643.8" y="501" width="29.2" height="83"/><text class="n" transform="translate(2648.3,504)rotate(90)scale(.8,1)">12097</text><text class="i" x="2658.3" y="580">✱V</text>
<rect class="c P" x="2673.1" y="501" width="29.2" height="83"/><text class="n" transform="translate(2677.6,504)rotate(90)scale(.8,1)">12095</text><text class="i" x="2687.6" y="580">▶V</text>
<rect class="c T" x="2702.3" y="501" width="29.2" height="83"/><text class="n" transform="translate(2706.8,504)rotate(90)scale(.8,1)">12093</text><text class="i" x="2716.8" y="580">▶⊟</text>
<rect class="c T" x="2731.5" y="501" width="29.2" height="83"/><text class="n" transform="translate(2736,504)rotate(90)scale(.8,1)">12091</text><text class="i" x="2746" y="580">▶⊟</text>
<rect class="c T" x="2760.7" y="501" width="29.2" height="83"/><text class="n" transform="translate(2765.2,504)rotate(90)scale(.8,1)">12089</text><text class="i" x="2775.2" y="580">✱V</text>
<rect class="c T" x="2789.9" y="501" width="29.2" height="83"/><text class="n" transform="translate(2794.4,504)rotate(90)scale(.8,1)">12087</text><text class="i" x="2804.4" y="580">▶V</text>
<rect class="c T" x="2819.1" y="501" width="29.2" height="83"/><text class="n" transform="translate(2823.6,504)rotate(90)scale(.8,1)">12085</text><text class="i" x="2833.6" y="580">▶⊟</text>
<rect class="c T" x="2848.3" y="501" width="29.2" height="83"/><text class="n" transform="translate(2852.8,504)rotate(90)scale(.8,1)">12083</text><text class="i" x="2862.8" y="580">⊟</text>
<rect class="c T" x="2877.5" y="501" width="29.2" height="83"/><text class="n" transform="translate(2882,504)rotate(90)scale(.8,1)">12081</text><text class="i" x="2892" y="580">✱V</text>
<rect class="c W" x="2906.7" y="501" width="29.2" height="83"/><text class="n" transform="translate(2911.2,504)rotate(90)scale(.8,1)">12079</text><text class="i" x="2921.2" y="580">▶V</text>

<!-- FORE TOP -->
<rect class="c L" x="2935" y="226" width="29" height="82"/><text class="n" transform="translate(2939.5,229)rotate(90)scale(.8,1)">12074</text><text class="i" x="2949.5" y="305">⊟</text>
<rect class="c L" x="2964" y="226" width="30" height="82"/><text class="n" transform="translate(2968.5,229)rotate(90)scale(.8,1)">12072</text><text class="i" x="2978.5" y="305">⊟</text>
<rect class="c L" x="2994" y="226" width="29" height="82"/><text class="n" transform="translate(2998.5,229)rotate(90)scale(.8,1)">12068</text><text class="i" x="3008.5" y="305">V</text>
<rect class="c L" x="3023" y="226" width="28" height="82"/><text class="n" transform="translate(3027,229)rotate(90)scale(.8,1)">12064</text><text class="i" x="3037" y="305">✱V</text>
<rect class="c L" x="3051" y="226" width="29" height="82"/><text class="n" transform="translate(3055.5,229)rotate(90)scale(.8,1)">12060</text><text class="i" x="3065.5" y="305">V</text>
<rect class="c L" x="3080" y="226" width="28" height="82"/><text class="n" transform="translate(3084,229)rotate(90)scale(.8,1)">12056</text><text class="i" x="3094" y="305">V</text>
<rect class="c L" x="3108" y="226" width="29" height="82"/><text class="n" transform="translate(3112.5,229)rotate(90)scale(.8,1)">12052</text><text class="i" x="3122.5" y="305">▶⊟</text>
<rect class="c L" x="3137" y="226" width="29" height="82"/><text class="n" transform="translate(3141.5,229)rotate(90)scale(.8,1)">12048</text><text class="i" x="3151.5" y="305">▶⊟</text>
<rect class="c T" x="3166" y="226" width="45" height="82"/><text class="n" transform="translate(3177,229)rotate(90)scale(.8,1)">12042</text><text class="i" x="3203" y="305">♿</text>
<rect class="c T" x="3211" y="226" width="44" height="82"/><text class="n" transform="translate(3222,229)rotate(90)scale(.8,1)">12038</text><text class="i" x="3248" y="305">♿</text>
<rect class="c G" x="3255" y="226" width="29" height="82"/><text class="n" transform="translate(3259.5,229)rotate(90)scale(.8,1)">12036</text><text class="i" x="3269.5" y="305">▶V</text>
<rect class="c G" x="3284" y="226" width="30" height="82"/><text class="n" transform="translate(3288.5,229)rotate(90)scale(.8,1)">12034</text><text class="i" x="3298.5" y="305">▶V</text>
<rect class="c G" x="3314" y="226" width="29" height="82"/><text class="n" transform="translate(3318.5,229)rotate(90)scale(.8,1)">12030</text><text class="i" x="3328.5" y="305">▶⊟</text>
<rect class="c G" x="3343" y="226" width="29" height="82"/><text class="n" transform="translate(3347.5,229)rotate(90)scale(.8,1)">12026</text><text class="i" x="3357.5" y="305">▶⊟</text>
<rect class="c G" x="3372" y="226" width="29" height="82"/><text class="n" transform="translate(3376.5,229)rotate(90)scale(.8,1)">12022</text><text class="i" x="3386.5" y="305">▶V</text>
<rect class="c G" x="3401" y="226" width="30" height="82"/><text class="n" transform="translate(3405.5,229)rotate(90)scale(.8,1)">12018</text><text class="i" x="3415.5" y="305">▶V</text>
<rect class="c Y" x="3431" y="226" width="28" height="82"/><text class="n" transform="translate(3435,234)rotate(90)scale(.8,1)">12014</text>

<!-- FORE BOTTOM -->
<rect class="c L" x="2935" y="547" width="29" height="85"/><text class="n" transform="translate(2939.5,550)rotate(90)scale(.8,1)">12077</text><text class="i" x="2949.5" y="628">⊟</text>
<rect class="c L" x="2964" y="547" width="30" height="85"/><text class="n" transform="translate(2968.5,550)rotate(90)scale(.8,1)">12073</text><text class="i" x="2978.5" y="628">⊟</text>
<rect class="c L" x="2994" y="547" width="29" height="85"/><text class="n" transform="translate(2998.5,550)rotate(90)scale(.8,1)">12069</text><text class="i" x="3008.5" y="628">V</text>
<rect class="c L" x="3023" y="547" width="28" height="85"/><text class="n" transform="translate(3027,550)rotate(90)scale(.8,1)">12065</text><text class="i" x="3037" y="628">V</text>
<rect class="c L" x="3051" y="547" width="29" height="85"/><text class="n" transform="translate(3055.5,550)rotate(90)scale(.8,1)">12061</text><text class="i" x="3065.5" y="628">V</text>
<rect class="c L" x="3080" y="547" width="28" height="85"/><text class="n" transform="translate(3084,550)rotate(90)scale(.8,1)">12057</text><text class="i" x="3094" y="628">V</text>
<rect class="c L" x="3108" y="547" width="29" height="85"/><text class="n" transform="translate(3112.5,550)rotate(90)scale(.8,1)">12053</text><text class="i" x="3122.5" y="628">⊟</text>
<rect class="c L" x="3137" y="547" width="29" height="85"/><text class="n" transform="translate(3141.5,550)rotate(90)scale(.8,1)">12049</text><text class="i" x="3151.5" y="628">⊟</text>
<rect class="c T" x="3166" y="547" width="45" height="85"/><text class="n" transform="translate(3177,550)rotate(90)scale(.8,1)">12043</text><text class="i" x="3200" y="628">✱♿</text>
<rect class="c T" x="3211" y="547" width="44" height="85"/><text class="n" transform="translate(3222,550)rotate(90)scale(.8,1)">12039</text><text class="i" x="3248" y="628">♿</text>
<rect class="c G" x="3255" y="547" width="29" height="85"/><text class="n" transform="translate(3259.5,550)rotate(90)scale(.8,1)">12037</text><text class="i" x="3269.5" y="628">▶V</text>
<rect class="c G" x="3284" y="547" width="30" height="85"/><text class="n" transform="translate(3288.5,550)rotate(90)scale(.8,1)">12035</text><text class="i" x="3298.5" y="628">▶V</text>
<rect class="c G" x="3314" y="547" width="29" height="85"/><text class="n" transform="translate(3318.5,550)rotate(90)scale(.8,1)">12031</text><text class="i" x="3328.5" y="628">▶⊟</text>
<rect class="c G" x="3343" y="547" width="29" height="85"/><text class="n" transform="translate(3347.5,550)rotate(90)scale(.8,1)">12027</text><text class="i" x="3357.5" y="628">▶⊟</text>
<rect class="c G" x="3372" y="547" width="29" height="85"/><text class="n" transform="translate(3376.5,550)rotate(90)scale(.8,1)">12023</text><text class="i" x="3386.5" y="628">▶V</text>
<rect class="c G" x="3401" y="547" width="30" height="85"/><text class="n" transform="translate(3405.5,550)rotate(90)scale(.8,1)">12019</text><text class="i" x="3415.5" y="628">▶V</text>
<rect class="c Y" x="3431" y="547" width="28" height="85"/><text class="n" transform="translate(3435,560)rotate(90)scale(.8,1)">12015</text>

<!-- FORE INNER -->
<rect class="c Y" x="2993" y="330" width="29.1" height="61"/><text class="n" transform="translate(2997.5,333)rotate(90)scale(.75,1)">12070</text>
<rect class="c Y" x="3022.1" y="330" width="29.1" height="61"/><text class="n" transform="translate(3026.6,333)rotate(90)scale(.75,1)">12066</text>
<rect class="c Y" x="3051.2" y="330" width="29.1" height="61"/><text class="n" transform="translate(3055.7,333)rotate(90)scale(.75,1)">12062</text>
<rect class="c Y" x="3080.3" y="330" width="29.1" height="61"/><text class="n" transform="translate(3084.8,333)rotate(90)scale(.75,1)">12058</text>
<rect class="c Y" x="3109.4" y="330" width="29.1" height="61"/><text class="n" transform="translate(3113.9,333)rotate(90)scale(.75,1)">12054</text>
<rect class="c Y" x="3138.5" y="330" width="29.1" height="61"/><text class="n" transform="translate(3143,333)rotate(90)scale(.75,1)">12050</text>
<rect class="c Y" x="3167.6" y="330" width="29.1" height="61"/><text class="n" transform="translate(3172.1,333)rotate(90)scale(.75,1)">12046</text>
<rect class="c Y" x="3196.7" y="330" width="29.1" height="61"/><text class="n" transform="translate(3201.2,333)rotate(90)scale(.75,1)">12044</text>
<rect class="c Y" x="3225.8" y="330" width="29.2" height="61"/><text class="n" transform="translate(3230.3,333)rotate(90)scale(.75,1)">12040</text>
<rect class="c Y" x="3313" y="330" width="29.2" height="61"/><text class="n" transform="translate(3317.5,333)rotate(90)scale(.75,1)">12032</text>
<rect class="c Y" x="3342.2" y="330" width="29.2" height="61"/><text class="n" transform="translate(3346.7,333)rotate(90)scale(.75,1)">12028</text>
<rect class="c Y" x="3371.4" y="330" width="29.2" height="61"/><text class="n" transform="translate(3375.9,333)rotate(90)scale(.75,1)">12024</text>
<rect class="c Y" x="3400.6" y="330" width="29.2" height="61"/><text class="n" transform="translate(3405.1,333)rotate(90)scale(.75,1)">12020</text>
<rect class="c Y" x="3429.8" y="330" width="29.2" height="61"/><text class="n" transform="translate(3434.3,333)rotate(90)scale(.75,1)">12016</text>
<rect class="c Y" x="3398" y="391" width="61" height="39"/><text class="h" x="3400" y="421" textLength="57" lengthAdjust="spacingAndGlyphs">12002</text>
<rect class="c Y" x="3398" y="430" width="61" height="36"/><text class="h" x="3400" y="458" textLength="57" lengthAdjust="spacingAndGlyphs">12001</text>

<rect class="c Y" x="2949" y="483" width="44" height="45"/><text class="s" transform="translate(2974,484)rotate(90)scale(.7,1)">12075</text><text class="i" x="2961" y="512" style="font-size:14px">✱</text>
<rect class="c Y" x="2993" y="466" width="29.1" height="62"/><text class="n" transform="translate(2997.5,469)rotate(90)scale(.75,1)">12071</text>
<rect class="c Y" x="3022.1" y="466" width="29.1" height="62"/><text class="n" transform="translate(3026.6,469)rotate(90)scale(.75,1)">12067</text>
<rect class="c Y" x="3051.2" y="466" width="29.1" height="62"/><text class="n" transform="translate(3055.7,469)rotate(90)scale(.75,1)">12063</text>
<rect class="c Y" x="3080.3" y="466" width="29.1" height="62"/><text class="n" transform="translate(3084.8,469)rotate(90)scale(.75,1)">12059</text>
<rect class="c Y" x="3109.4" y="466" width="29.1" height="62"/><text class="n" transform="translate(3113.9,469)rotate(90)scale(.75,1)">12055</text>
<rect class="c Y" x="3138.5" y="466" width="29.1" height="62"/><text class="n" transform="translate(3143,469)rotate(90)scale(.75,1)">12051</text>
<rect class="c Y" x="3167.6" y="466" width="29.1" height="62"/><text class="n" transform="translate(3172.1,469)rotate(90)scale(.75,1)">12047</text>
<rect class="c Y" x="3196.7" y="466" width="29.1" height="62"/><text class="n" transform="translate(3201.2,469)rotate(90)scale(.75,1)">12045</text>
<rect class="c Y" x="3225.8" y="466" width="29.2" height="62"/><text class="n" transform="translate(3230.3,469)rotate(90)scale(.75,1)">12041</text>
<rect class="c Y" x="3313" y="466" width="29.2" height="62"/><text class="n" transform="translate(3317.5,469)rotate(90)scale(.75,1)">12033</text>
<rect class="c Y" x="3342.2" y="466" width="29.2" height="62"/><text class="n" transform="translate(3346.7,469)rotate(90)scale(.75,1)">12029</text>
<rect class="c Y" x="3371.4" y="466" width="29.2" height="62"/><text class="n" transform="translate(3375.9,469)rotate(90)scale(.75,1)">12025</text>
<rect class="c Y" x="3400.6" y="466" width="29.2" height="62"/><text class="n" transform="translate(3405.1,469)rotate(90)scale(.75,1)">12021</text>
<rect class="c Y" x="3429.8" y="466" width="29.2" height="62"/><text class="n" transform="translate(3434.3,469)rotate(90)scale(.75,1)">12017</text>

<!-- FORE RIGHT -->
<path class="c" d="M3459,227 L3500,227 Q3545,260 3559,302 L3459,302 Z" fill="#fcf1f6"/>
<text class="h" x="3466" y="274" textLength="60" lengthAdjust="spacingAndGlyphs">12012</text><text class="i" x="3496" y="292" style="font-size:13px">◊✱</text>
<path class="c" d="M3459,632 L3500,632 Q3545,600 3559,555 L3459,555 Z" fill="#fcf1f6"/>
<text class="h" x="3466" y="595" textLength="60" lengthAdjust="spacingAndGlyphs">12011</text><text class="i" x="3496" y="613" style="font-size:13px">◊✱</text>
<rect class="c P" x="3477" y="302" width="82" height="33"/><text class="h" x="3479" y="330" textLength="58" lengthAdjust="spacingAndGlyphs">12010</text><text class="i" x="3551" y="316" style="font-size:10px">⊟</text><text class="i" x="3551" y="332" style="font-size:11px">▲</text>
<rect class="c P" x="3477" y="335" width="82" height="31"/><text class="h" x="3479" y="362" textLength="58" lengthAdjust="spacingAndGlyphs">12008</text><text class="i" x="3551" y="347" style="font-size:10px">&gt;</text><text class="i" x="3551" y="363" style="font-size:11px">▲</text>
<rect class="c P" x="3477" y="366" width="82" height="32"/><text class="h" x="3479" y="393" textLength="58" lengthAdjust="spacingAndGlyphs">12006</text><text class="i" x="3551" y="378" style="font-size:10px">&gt;</text><text class="i" x="3551" y="394" style="font-size:11px">▲</text>
<rect class="c P" x="3477" y="398" width="82" height="30"/><text class="h" x="3479" y="424" textLength="58" lengthAdjust="spacingAndGlyphs">12004</text><text class="i" x="3551" y="409" style="font-size:10px">⊟</text><text class="i" x="3551" y="425" style="font-size:11px">▲</text>
<rect class="c P" x="3477" y="428" width="82" height="32"/><text class="h" x="3479" y="455" textLength="58" lengthAdjust="spacingAndGlyphs">12003</text><text class="i" x="3551" y="440" style="font-size:10px">⊟</text><text class="i" x="3551" y="456" style="font-size:11px">▲</text>
<rect class="c P" x="3477" y="460" width="82" height="32"/><text class="h" x="3479" y="487" textLength="58" lengthAdjust="spacingAndGlyphs">12005</text><text class="i" x="3551" y="472" style="font-size:10px">&gt;</text><text class="i" x="3551" y="488" style="font-size:11px">▲</text>
<rect class="c P" x="3477" y="492" width="82" height="32"/><text class="h" x="3479" y="519" textLength="58" lengthAdjust="spacingAndGlyphs">12007</text><text class="i" x="3551" y="504" style="font-size:10px">&gt;</text><text class="i" x="3551" y="520" style="font-size:11px">▲</text>
<rect class="c P" x="3477" y="524" width="82" height="31"/><text class="h" x="3479" y="550" textLength="58" lengthAdjust="spacingAndGlyphs">12009</text><text class="i" x="3551" y="535" style="font-size:10px">⊟</text><text class="i" x="3551" y="551" style="font-size:11px">▲</text>

<!-- outline -->
<use href="#deck" fill="none" stroke="#1e1e1e" stroke-width="3.5"/>
</svg>
</body></html>
